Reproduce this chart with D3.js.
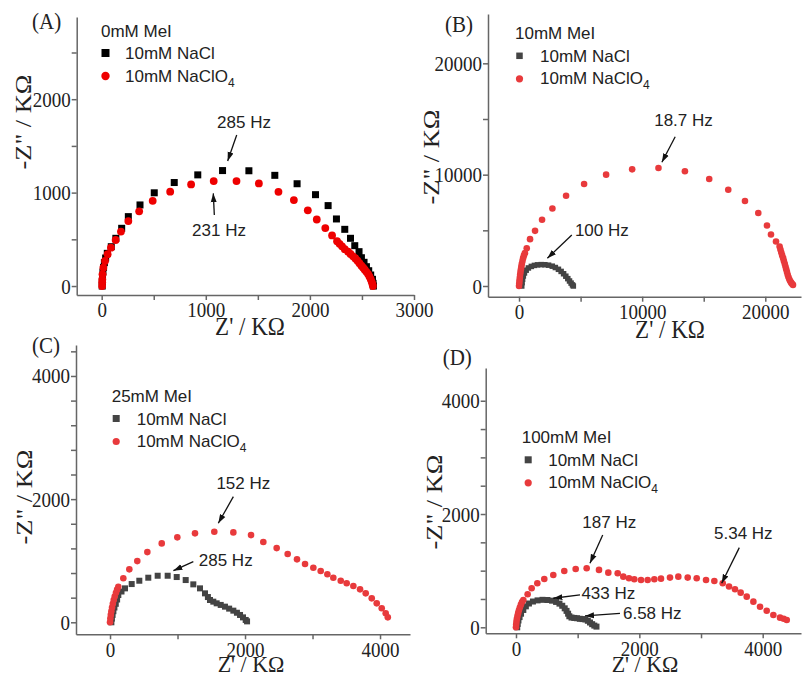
<!DOCTYPE html>
<html>
<head>
<meta charset="utf-8">
<script src="https://cdn.jsdelivr.net/npm/d3@7"></script>
<style>
    body { margin: 0; background: #fff; }
    .axis path, .axis line { stroke: #666; stroke-width: 1.5; }
    .axis text { font-family: "Liberation Serif", "Times New Roman", serif; font-size: 19px; fill: #222; }
    .title { font-family: "Liberation Serif", "Times New Roman", serif; font-size: 23px; fill: #222; }
    .plabel { font-family: "Liberation Serif", "Times New Roman", serif; font-size: 21px; fill: #222; }
    .legend, .note { font-family: "Liberation Sans", Arial, sans-serif; font-size: 17px; fill: #222; }
</style>
</head>
<body>
<svg id="chart" width="803" height="676"></svg>
<script>
// Nyquist data, [Z', -Z''] in KOhm

// (A) 0mM MeI
const A_NaCl = [[5, 0], [6, 50], [8, 100], [12, 150], [18, 200], [26, 250], [38, 300], [54, 350], [92, 421], [136, 511], [192, 618], [256, 743], [368, 868], [505, 998], [697, 1108], [923, 1190], [1161, 1236], [1414, 1234], [1663, 1185], [1877, 1095], [2054, 978], [2175, 861], [2255, 718], [2335, 607], [2390, 511], [2431, 432], [2472, 368], [2495, 303], [2520, 254], [2543, 207], [2565, 164], [2584, 118], [2601, 72], [2607, 29], [2610, 0]]
const A_NaClO4 = [[4, 0], [5, 40], [6, 71], [8, 125], [16, 196], [32, 268], [57, 340], [89, 411], [134, 493], [185, 583], [256, 695], [360, 800], [490, 912], [658, 1010], [859, 1088], [1076, 1124], [1295, 1124], [1510, 1098], [1698, 1008], [1846, 920], [1980, 810], [2066, 712], [2148, 620], [2213, 542], [2261, 480], [2285, 452], [2309, 425], [2335, 395], [2367, 368], [2390, 343], [2415, 318], [2437, 295], [2457, 271], [2476, 245], [2495, 218], [2512, 197], [2527, 175], [2543, 152], [2559, 129], [2572, 102], [2584, 75], [2593, 48], [2601, 21], [2605, 0]]

// (B) 10mM MeI
const B_NaCl = [[220, 0], [250, 300], [290, 600], [350, 900], [440, 1170], [580, 1420], [760, 1620], [1000, 1760], [1250, 1850], [1500, 1900], [1800, 1920], [2100, 1910], [2400, 1870], [2700, 1780], [2950, 1660], [3200, 1500], [3420, 1310], [3620, 1100], [3800, 880], [3960, 660], [4100, 450], [4230, 260], [4340, 100], [4410, 0]]
const B_NaClO4 = [[0, 0], [20, 250], [40, 500], [65, 750], [90, 1000], [120, 1250], [155, 1500], [190, 1750], [230, 2000], [280, 2250], [330, 2500], [400, 2750], [480, 2950], [626, 3396], [894, 4207], [1301, 4955], [1870, 5946], [2710, 6964], [3821, 8108], [5285, 9162], [7073, 10000], [9187, 10478], [11325, 10600], [13472, 10300], [15447, 9610], [16992, 8650], [18350, 7630], [19431, 6550], [20138, 5435], [20463, 4625], [20870, 3996], [21163, 3540], [21230, 3270], [21300, 3000], [21370, 2750], [21450, 2500], [21510, 2250], [21580, 2000], [21640, 1750], [21700, 1500], [21760, 1250], [21820, 1000], [21880, 800], [21950, 600], [22020, 450], [22100, 300], [22170, 200], [22250, 100]]

// (C) 25mM MeI
const C_NaCl = [[20, 0], [28, 60], [38, 120], [50, 180], [65, 240], [85, 300], [105, 370], [123, 443], [170, 500], [222, 551], [321, 621], [434, 675], [567, 724], [706, 756], [854, 756], [988, 735], [1121, 686], [1234, 616], [1333, 551], [1407, 470], [1450, 410], [1481, 362], [1530, 335], [1580, 308], [1640, 282], [1703, 254], [1765, 222], [1827, 189], [1880, 155], [1926, 119], [1970, 80], [2010, 38], [2030, 15]]
const C_NaClO4 = [[0, 0], [5, 60], [12, 120], [20, 180], [30, 240], [42, 300], [55, 360], [70, 420], [88, 480], [105, 530], [123, 577], [197, 714], [286, 860], [404, 994], [553, 1140], [766, 1281], [997, 1379], [1259, 1444], [1545, 1470], [1827, 1460], [2089, 1416], [2271, 1303], [2469, 1205], [2632, 1108], [2770, 1022], [2889, 946], [3012, 886], [3121, 832], [3220, 779], [3308, 724], [3418, 675], [3506, 633], [3605, 589], [3704, 535], [3788, 470], [3877, 389], [3951, 308], [4025, 227], [4084, 146], [4115, 80]]

// (D) 100mM MeI
const D_NaCl = [[20, 0], [28, 60], [40, 120], [58, 180], [82, 240], [119, 306], [160, 370], [210, 420], [275, 455], [350, 475], [430, 485], [510, 482], [585, 470], [650, 448], [705, 418], [750, 380], [790, 335], [820, 290], [845, 240], [865, 195], [900, 172], [945, 165], [990, 160], [1035, 150], [1080, 145], [1125, 138], [1165, 115], [1200, 85], [1235, 55], [1270, 30], [1305, 12]]
const D_NaClO4 = [[0, 0], [3, 50], [8, 100], [15, 150], [24, 200], [35, 250], [48, 300], [63, 350], [80, 400], [98, 445], [119, 483], [189, 583], [254, 689], [346, 778], [459, 854], [605, 924], [783, 995], [968, 1030], [1146, 1043], [1346, 1013], [1497, 965], [1649, 954], [1740, 894], [1832, 866], [1918, 848], [2027, 836], [2135, 836], [2243, 848], [2351, 859], [2497, 877], [2632, 894], [2784, 877], [2930, 866], [3081, 836], [3216, 818], [3352, 778], [3454, 719], [3551, 672], [3643, 612], [3741, 541], [3849, 453], [3957, 364], [4065, 293], [4173, 217], [4281, 170], [4340, 150], [4390, 129]]

// tick values and which of them carry a label
const A_xTicks = [0, 500, 1000, 1500, 2000, 2500, 3000], A_xLabels = [0, 1000, 2000, 3000]
const A_yTicks = [0, 500, 1000, 1500, 2000, 2500], A_yLabels = [0, 1000, 2000]
const B_xTicks = [0, 5000, 10000, 15000, 20000], B_xLabels = [0, 10000, 20000]
const B_yTicks = [0, 5000, 10000, 15000, 20000], B_yLabels = [0, 10000, 20000]
const C_xTicks = [0, 1000, 2000, 3000, 4000], C_xLabels = [0, 2000, 4000]
const C_yTicks = [0, 400, 800, 1200, 1600, 2000, 2400, 2800, 3200, 3600, 4000, 4400], C_yLabels = [0, 2000, 4000]
const D_xTicks = [0, 1000, 2000, 3000, 4000], D_xLabels = [0, 2000, 4000]
const D_yTicks = [0, 500, 1000, 1500, 2000, 2500, 3000, 3500, 4000], D_yLabels = [0, 2000, 4000]

// frequency call-outs: text centre and arrow, in data units
const A_notes = [
    { text: '285 Hz', tx: 1367, ty: 1756, x1: 1297, y1: 1617, x2: 1210, y2: 1338 },
    { text: '231 Hz', tx: 1127, ty: 600, x1: 1082, y1: 760, x2: 1072, y2: 992 }
]
const B_notes = [
    { text: '18.7 Hz', tx: 13358, ty: 14908, x1: 12683, y1: 13408, x2: 11602, y2: 11109 },
    { text: '100 Hz', tx: 6724, ty: 5029, x1: 4285, y1: 4580, x2: 2301, y2: 2488 }
]
const C_notes = [
    { text: '152 Hz', tx: 1975, ty: 2257, x1: 1827, y1: 2040, x2: 1604, y2: 1608 },
    { text: '285 Hz', tx: 1714, ty: 1012, x1: 1234, y1: 984, x2: 939, y2: 838 }
]
const D_notes = [
    { text: '187 Hz', tx: 1513, ty: 1867, x1: 1406, y1: 1631, x2: 1200, y2: 1131 },
    { text: '5.34 Hz', tx: 3686, ty: 1662, x1: 3621, y1: 1407, x2: 3335, y2: 778 },
    { text: '433 Hz', tx: 1497, ty: 601, x1: 1038, y1: 571, x2: 605, y2: 513 },
    { text: '6.58 Hz', tx: 2210, ty: 247, x1: 1686, y1: 247, x2: 1119, y2: 200 }
]

const svg = d3.select('#chart')

svg.append('defs').append('marker')
    .attr('id', 'head')
    .attr('viewBox', '0 -4 9 8')
    .attr('refX', 9)
    .attr('refY', 0)
    .attr('markerUnits', 'userSpaceOnUse')
    .attr('markerWidth', 9)
    .attr('markerHeight', 8)
    .attr('orient', 'auto')
    .append('path')
    .attr('d', 'M0,-3L9,0L0,3Z')
    .attr('fill', '#111')

// the serif texts in the original figure are a bit taller than wide
const stretch = 1.15

function drawPanel(p) {

    let x = d3.scaleLinear().domain(p.xDomain).range(p.xRange),
        y = d3.scaleLinear().domain(p.yDomain).range(p.yRange),
        g = svg.append('g')

    g.append('g')
        .attr('class', 'axis')
        .attr('transform', `translate(0,${p.yRange[0]})`)
        .call(d3.axisBottom(x).tickValues(p.xTicks)
            .tickFormat(d => p.xLabels.includes(d) ? d : '')
            .tickSize(5).tickSizeOuter(0).tickPadding(1))
        .selectAll('.tick text')
        .attr('transform', `scale(1,${stretch})`)

    g.append('g')
        .attr('class', 'axis')
        .attr('transform', `translate(${p.xRange[0]},0)`)
        .call(d3.axisLeft(y).tickValues(p.yTicks)
            .tickFormat(d => p.yLabels.includes(d) ? d : '')
            .tickSize(5).tickSizeOuter(0).tickPadding(1))
        .selectAll('.tick text')
        .attr('transform', `scale(1,${stretch})`)

    // squares first, circles on top
    g.append('g')
        .selectAll('rect')
        .data(p.squares)
        .enter()
        .append('rect')
        .attr('x', d => x(d[0]) - p.sq / 2)
        .attr('y', d => y(d[1]) - p.sq / 2)
        .attr('width', p.sq)
        .attr('height', p.sq)
        .attr('fill', p.sqColor)

    g.append('g')
        .selectAll('circle')
        .data(p.circles)
        .enter()
        .append('circle')
        .attr('cx', d => x(d[0]))
        .attr('cy', d => y(d[1]))
        .attr('r', p.r)
        .attr('fill', p.cColor)

    // call-outs
    p.notes.forEach(n => {
        g.append('line')
            .attr('x1', x(n.x1)).attr('y1', y(n.y1))
            .attr('x2', x(n.x2)).attr('y2', y(n.y2))
            .attr('stroke', '#111')
            .attr('stroke-width', 1.3)
            .attr('marker-end', 'url(#head)')
        g.append('text')
            .attr('class', 'note')
            .attr('x', x(n.tx))
            .attr('y', y(n.ty))
            .attr('dy', '0.35em')
            .attr('text-anchor', 'middle')
            .text(n.text)
    })

    // legend
    let L = p.legend
    g.append('text').attr('class', 'legend').attr('x', L.x).attr('y', L.y).text(L.title)
    g.append('rect')
        .attr('x', L.x + L.mx - p.sq / 2 - 0.5).attr('y', L.y + 16.5 - p.sq / 2 - 0.5)
        .attr('width', p.sq + 1).attr('height', p.sq + 1)
        .attr('fill', p.sqColor)
    g.append('text').attr('class', 'legend').attr('x', L.x + L.tx).attr('y', L.y + 22.5).text('10mM NaCl')
    g.append('circle')
        .attr('cx', L.x + L.mx).attr('cy', L.y + 39.5)
        .attr('r', p.r + 0.3)
        .attr('fill', p.cColor)
    let t = g.append('text').attr('class', 'legend').attr('x', L.x + L.tx).attr('y', L.y + 45)
    t.append('tspan').text('10mM NaClO')
    t.append('tspan').attr('dy', 5).style('font-size', '12px').text('4')

    // titles
    g.append('text').attr('class', 'plabel')
        .attr('transform', `translate(${p.label[0]},${p.label[1]}) scale(1,1.05)`)
        .text(p.name)
    g.append('text').attr('class', 'title')
        .attr('transform', `translate(${p.xTitle[0]},${p.xTitle[1]}) scale(1,1.08)`)
        .attr('text-anchor', 'middle')
        .style('font-size', p.xTitleSize + 'px')
        .text("Z' / K\u03A9")
    g.append('text').attr('class', 'title')
        .attr('transform', `translate(${p.yTitle[0]},${p.yTitle[1]}) scale(1,${stretch}) rotate(-90)`)
        .attr('dy', '0.35em')
        .attr('text-anchor', 'middle')
        .text('-Z" / K\u03A9')
}

drawPanel({
    name: '(A)', label: [32, 29],
    xDomain: [-240, 3000], xRange: [76.7, 414],
    yDomain: [-96, 2880], yRange: [295, 17],
    xTicks: A_xTicks, xLabels: A_xLabels, yTicks: A_yTicks, yLabels: A_yLabels,
    squares: A_NaCl, circles: A_NaClO4,
    sq: 7, sqColor: '#000', r: 3.9, cColor: '#ee0000',
    notes: A_notes,
    legend: { x: 101, y: 36.5, title: '0mM MeI', mx: 4.5, tx: 24 },
    xTitle: [250, 335], xTitleSize: 23, yTitle: [23, 122]
})

drawPanel({
    name: '(B)', label: [445, 31.5],
    xDomain: [-2520, 22900], xRange: [488, 801],
    yDomain: [-961, 24430], yRange: [296.7, 14],
    xTicks: B_xTicks, xLabels: B_xLabels, yTicks: B_yTicks, yLabels: B_yLabels,
    squares: B_NaCl, circles: B_NaClO4,
    sq: 5.5, sqColor: '#444', r: 3.3, cColor: '#e83a3c',
    notes: B_notes,
    legend: { x: 515, y: 39.3, title: '10mM MeI', mx: 4.5, tx: 25 },
    xTitle: [670, 338], xTitleSize: 23, yTitle: [431, 157]
})

drawPanel({
    name: '(C)', label: [32, 353],
    xDomain: [-504, 4444], xRange: [76, 410],
    yDomain: [-195, 4503], yRange: [634.3, 345],
    xTicks: C_xTicks, xLabels: C_xLabels, yTicks: C_yTicks, yLabels: C_yLabels,
    squares: C_NaCl, circles: C_NaClO4,
    sq: 6, sqColor: '#444', r: 3.3, cColor: '#e83a3c',
    notes: C_notes,
    legend: { x: 111.7, y: 402, title: '25mM MeI', mx: 4.5, tx: 25 },
    xTitle: [251, 672], xTitleSize: 22, yTitle: [24, 497]
})

drawPanel({
    name: '(D)', label: [442.7, 365],
    xDomain: [-491, 4621], xRange: [485.7, 801],
    yDomain: [-106, 4578], yRange: [633.3, 368],
    xTicks: D_xTicks, xLabels: D_xLabels, yTicks: D_yTicks, yLabels: D_yLabels,
    squares: D_NaCl, circles: D_NaClO4,
    sq: 6, sqColor: '#444', r: 3.3, cColor: '#e83a3c',
    notes: D_notes,
    legend: { x: 521.7, y: 443.3, title: '100mM MeI', mx: 6.5, tx: 26.5 },
    xTitle: [645, 672], xTitleSize: 22, yTitle: [434, 502]
})
</script>
</body>
</html>
